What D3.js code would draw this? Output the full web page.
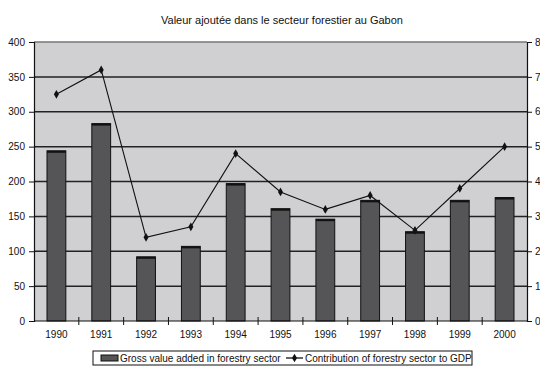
<!DOCTYPE html>
<html>
<head>
<meta charset="utf-8">
<script src="https://cdn.jsdelivr.net/npm/d3@7"></script>
<style>
  html, body { margin: 0; padding: 0; background: #fff; }
  svg { display: block; font-family: "Liberation Sans", Arial, sans-serif; }
</style>
</head>
<body>
<svg id="chart" width="540" height="367"></svg>
<script>
// Forestry sector in Gabon, 1990–2000
const years = ["1990","1991","1992","1993","1994","1995","1996","1997","1998","1999","2000"];
const grossValue = [244, 283, 92, 107, 197, 161, 146, 173, 128, 173, 177];
const gdpShare = [6.5, 7.2, 2.4, 2.7, 4.8, 3.7, 3.2, 3.6, 2.6, 3.8, 5.0];
const leftTicks = [0, 50, 100, 150, 200, 250, 300, 350, 400];
const rightTicks = [0, 1, 2, 3, 4, 5, 6, 7, 8];
const titleText = "Valeur ajoutée dans le secteur forestier au Gabon";
const barLabel = "Gross value added in forestry sector";
const lineLabel = "Contribution of forestry sector to GDP";

const svg = d3.select("#chart");
const m = { left: 34, right: 527, top: 42, bottom: 321 };

const x = d3.scaleBand().domain(years).range([m.left, m.right]).paddingInner(0.58).paddingOuter(0.29);
const xb = d3.scaleBand().domain(years).range([m.left, m.right]);
const yL = d3.scaleLinear().domain([0, 400]).range([m.bottom, m.top]);
const yR = d3.scaleLinear().domain([0, 8]).range([m.bottom, m.top]);

// title
svg.append("text").attr("x", 282).attr("y", 24).attr("text-anchor", "middle")
  .attr("font-size", 11).attr("fill", "#111").text(titleText);

// plot background
svg.append("rect").attr("x", m.left).attr("y", m.top)
  .attr("width", m.right - m.left).attr("height", m.bottom - m.top)
  .attr("fill", "#d0d0d2");

// gridlines
svg.append("g").selectAll("line").data(leftTicks.slice(1)).join("line")
  .attr("x1", m.left).attr("x2", m.right)
  .attr("y1", d => yL(d)).attr("y2", d => yL(d))
  .attr("stroke", d => d === 400 ? "#777" : "#222").attr("stroke-width", 1.5);

// bars
svg.append("g").selectAll("rect").data(grossValue).join("rect")
  .attr("x", (d, i) => x(years[i]))
  .attr("y", d => yL(d))
  .attr("width", x.bandwidth())
  .attr("height", d => yL(0) - yL(d))
  .attr("fill", "#555557").attr("stroke", "#111").attr("stroke-width", 1);
svg.append("g").selectAll("line").data(grossValue).join("line")
  .attr("x1", (d, i) => x(years[i])).attr("x2", (d, i) => x(years[i]) + x.bandwidth())
  .attr("y1", d => yL(d) + 1).attr("y2", d => yL(d) + 1)
  .attr("stroke", "#111").attr("stroke-width", 2);

// line series
const line = d3.line().x((d, i) => xb(years[i]) + xb.bandwidth() / 2).y(d => yR(d));
svg.append("path").datum(gdpShare).attr("d", line)
  .attr("fill", "none").attr("stroke", "#111").attr("stroke-width", 1.1);
const diamond = d3.symbol().type(d3.symbolDiamond).size(22);
svg.append("g").selectAll("path").data(gdpShare).join("path")
  .attr("transform", (d, i) => `translate(${xb(years[i]) + xb.bandwidth() / 2},${yR(d)})`)
  .attr("d", diamond).attr("fill", "#111");

// left axis
const gl = svg.append("g").attr("transform", `translate(${m.left},0)`)
  .call(d3.axisLeft(yL).tickValues(leftTicks).tickSize(5).tickPadding(4));
// right axis
const gr = svg.append("g").attr("transform", `translate(${m.right},0)`)
  .call(d3.axisRight(yR).tickValues(rightTicks).tickSize(5).tickPadding(3));
// bottom axis: ticks between categories
const gb = svg.append("g").attr("transform", `translate(0,${m.bottom})`)
  .call(d3.axisBottom(xb).tickSize(0).tickPadding(10));
gb.selectAll(".sep").data(years.slice(1)).join("line").attr("class", "sep")
  .attr("x1", d => xb(d)).attr("x2", d => xb(d)).attr("y1", -4).attr("y2", 4)
  .attr("stroke", "#111");

[gl, gr, gb].forEach(g => {
  g.select(".domain").attr("stroke", "#111").attr("stroke-width", 1.2);
  g.selectAll(".tick line").attr("stroke", "#111");
  g.selectAll("text").attr("font-size", 10).attr("fill", "#111")
    .attr("font-family", "'Liberation Sans', Arial, sans-serif");
});
gb.select(".domain").attr("d", `M${m.left},0H${m.right}`);

// legend
const lg = svg.append("g");
lg.append("rect").attr("x", 93).attr("y", 351).attr("width", 379).attr("height", 14)
  .attr("fill", "#fff").attr("stroke", "#111").attr("stroke-width", 1);
lg.append("rect").attr("x", 101).attr("y", 355).attr("width", 17).attr("height", 6)
  .attr("fill", "#555557").attr("stroke", "#111").attr("stroke-width", 1);
lg.append("text").attr("x", 120).attr("y", 362).attr("font-size", 10).attr("fill", "#111").text(barLabel);
lg.append("line").attr("x1", 286).attr("x2", 303).attr("y1", 358).attr("y2", 358)
  .attr("stroke", "#111").attr("stroke-width", 1.3);
lg.append("path").attr("transform", "translate(294.5,358)").attr("d", diamond).attr("fill", "#111");
lg.append("text").attr("x", 305).attr("y", 362).attr("font-size", 10).attr("fill", "#111").text(lineLabel);
</script>
</body>
</html>
